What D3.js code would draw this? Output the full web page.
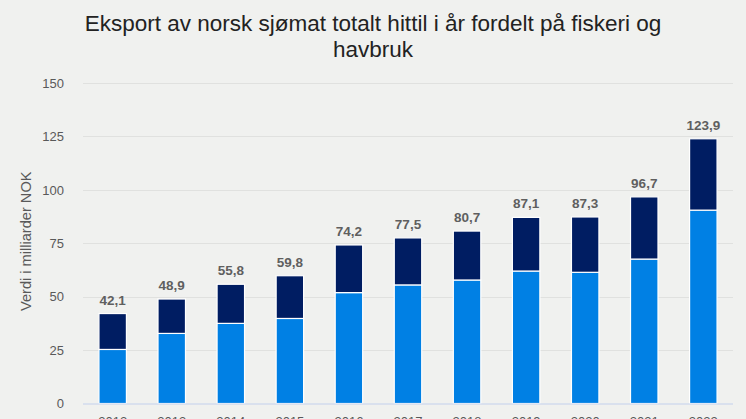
<!DOCTYPE html>
<html>
<head>
<meta charset="utf-8">
<style>
body {
  margin: 0;
  background: #f0f1ef;
  font-family: "Liberation Sans", Arial, Helvetica, sans-serif;
}
svg { display: block; }
.grid line { stroke: #e0e1df; stroke-width: 1px; }
.tick text { fill: #595959; font-size: 13px; }
.lbl { fill: #5f5f5f; font-size: 13.5px; font-weight: bold; }
</style>
</head>
<body>
<script src="https://cdn.jsdelivr.net/npm/d3@7"></script>
<script>
// years on x, values in billions NOK
var years = ["2012", "2013", "2014", "2015", "2016", "2017", "2018", "2019", "2020", "2021", "2022"];
var havbruk = [25.3, 32.8, 37.5, 39.8, 51.9, 55.5, 57.8, 62.0, 61.4, 67.6, 90.5];
var totals = [42.1, 48.9, 55.8, 59.8, 74.2, 77.5, 80.7, 87.1, 87.3, 96.7, 123.9];
var fiskeri = totals.map(function(t, i) { return +(t - havbruk[i]).toFixed(1); });
var yTicks = [0, 25, 50, 75, 100, 125, 150];

var W = 746, H = 419;
var margin = {top: 83, right: 13, bottom: 15.5, left: 83};
var w = W - margin.left - margin.right,
    h = H - margin.top - margin.bottom;

var svg = d3.select("body").append("svg")
  .attr("width", W)
  .attr("height", H);

// title
var title = svg.append("text")
  .attr("text-anchor", "middle")
  .attr("fill", "#222")
  .style("font-size", "22.5px");
title.append("tspan").attr("x", W / 2).attr("y", 31)
  .text("Eksport av norsk sjømat totalt hittil i år fordelt på fiskeri og");
title.append("tspan").attr("x", W / 2).attr("y", 57)
  .text("havbruk");

var g = svg.append("g")
  .attr("transform", "translate(" + margin.left + "," + margin.top + ")");

var x = d3.scaleBand().domain(years).range([0, w]).paddingInner(0.535).paddingOuter(0.27);
var y = d3.scaleLinear().domain([0, 150]).range([h, 0]);

// gridlines
g.append("g").attr("class", "grid")
  .selectAll("line").data(yTicks.slice(1)).enter().append("line")
  .attr("x1", 0).attr("x2", w)
  .attr("y1", function(d) { return Math.round(y(d)) + 0.5; })
  .attr("y2", function(d) { return Math.round(y(d)) + 0.5; });

// y axis labels
var yAxis = g.append("g")
  .call(d3.axisLeft(y).tickValues(yTicks).tickSize(0).tickPadding(19));
yAxis.select(".domain").remove();

svg.append("text")
  .attr("transform", "translate(31," + (margin.top + h / 2 - 2) + ") rotate(-90)")
  .attr("text-anchor", "middle")
  .attr("fill", "#595959")
  .style("font-size", "14.6px")
  .text("Verdi i milliarder NOK");

// stacked bars
var stackData = years.map(function(yr, i) {
  return {year: yr, havbruk: havbruk[i], fiskeri: fiskeri[i]};
});
var series = d3.stack().keys(["havbruk", "fiskeri"])(stackData);
var colors = {havbruk: "#0080e4", fiskeri: "#001d62"};

g.selectAll(".series").data(series).enter().append("g")
  .attr("fill", function(d) { return colors[d.key]; })
  .selectAll("rect").data(function(d) { return d; }).enter().append("rect")
  .attr("x", function(d) { return x(d.data.year); })
  .attr("width", x.bandwidth())
  .attr("y", function(d) { return y(d[1]); })
  .attr("height", function(d) { return y(d[0]) - y(d[1]); })
  .attr("stroke", "#fff")
  .attr("stroke-width", 1.2);

// baseline
g.append("line")
  .attr("x1", 0).attr("x2", w)
  .attr("y1", h + 0.5).attr("y2", h + 0.5)
  .attr("stroke", "#c3d0ec");

// total labels
g.selectAll(".lbl").data(totals).enter().append("text")
  .attr("class", "lbl")
  .attr("text-anchor", "middle")
  .attr("x", function(d, i) { return x(years[i]) + x.bandwidth() / 2; })
  .attr("y", function(d) { return y(d) - 9; })
  .text(function(d) { return d.toFixed(1).replace(".", ","); });

// year labels (the reference has them cut by the frame too)
var xAxis = g.append("g")
  .attr("transform", "translate(0," + h + ")")
  .call(d3.axisBottom(x).tickSize(0).tickPadding(13));
xAxis.select(".domain").remove();
xAxis.selectAll("text").style("font-size", "13px");
</script>
</body>
</html>
